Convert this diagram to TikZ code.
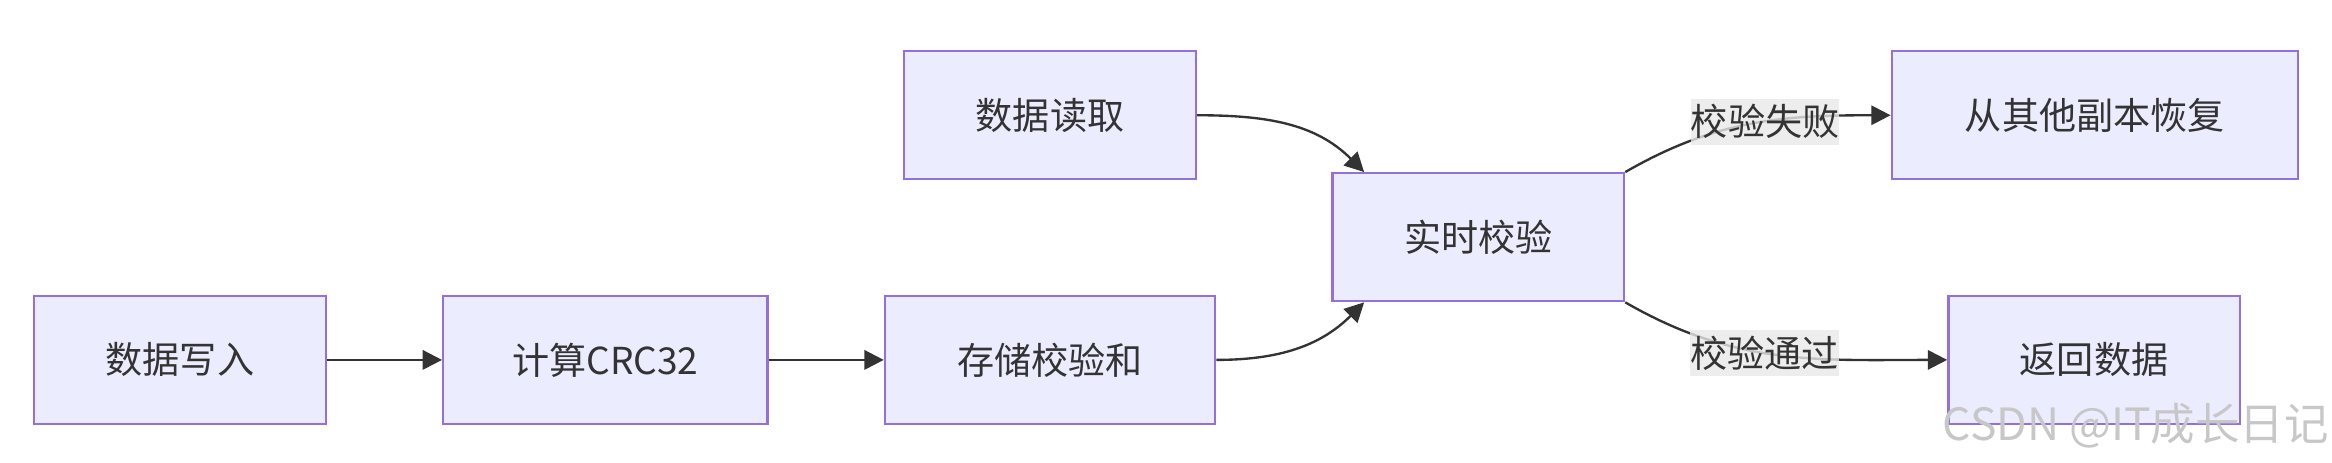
\documentclass[tikz,border=0pt]{standalone}
\usepackage{fontspec}
\setmainfont{Noto Sans CJK SC}
\usepackage{tikz}
\usetikzlibrary{arrows.meta, positioning}
\tikzset{>={Triangle[width=2.6mm,length=2.6mm]}}
\definecolor{boxfill}{HTML}{ECECFF}
\definecolor{boxline}{HTML}{9370DB}
\definecolor{edgeline}{HTML}{333333}
\definecolor{lblfill}{HTML}{E8E8E8}
\tikzset{
	box/.style = {draw = boxline, fill = boxfill, line width = 0.9pt, minimum width = 3.92cm, minimum height = 1.72cm, inner sep = 0pt, font = \fontsize{14.2}{16}\selectfont, text = edgeline},
	lbl/.style = {fill = lblfill, fill opacity = 0.8, text opacity = 1, inner sep = 0pt, minimum height = 0.62cm, font = \fontsize{14.2}{16}\selectfont, text = edgeline}
}

\begin{document}
\begin{tikzpicture}[on grid, node distance = 5cm]
		\useasboundingbox (0,0) rectangle (31.36,-6.22);
		\node (write) [box] at (2.42,-4.84) {数据写入};
		\node (crc) [box, minimum width = 4.36cm, right = 5.72cm of write] {计算CRC32};
		\node (store) [box, minimum width = 4.44cm, right = 5.98cm of crc] {存储校验和};
		\node (read) [box, above = 3.29cm of store] {数据读取};
		\node (check) [box, above right = 1.65cm and 5.76cm of store] {实时校验};
		\node (recover) [box, minimum width = 5.46cm, right = 14.05cm of read] {从其他副本恢复};
		\node (ret) [box, right = 14.04cm of store] {返回数据};
		\coordinate (checkin) at ([xshift = 0.44cm]check.north west);
		\coordinate (checkout) at ([xshift = 0.44cm]check.south west);
		\path[->, edgeline, line width = 0.9pt]
			(write) edge (crc)
			(crc) edge (store)
			(read.east) edge [out = 0, in = 135] (checkin)
			(store.east) edge [out = 0, in = -135] (checkout)
			(check.north east) edge [out = 30, in = 180] node [lbl, pos = 0.55] {校验失败} (recover.west)
			(check.south east) edge [out = -30, in = 180] node [lbl, pos = 0.45] {校验通过} (ret.west);
		\node (mark) [text = black!22, font = \fontsize{17}{19}\selectfont] at (28.72,-5.72) {CSDN @IT成长日记};
	\end{tikzpicture}
\end{document}
